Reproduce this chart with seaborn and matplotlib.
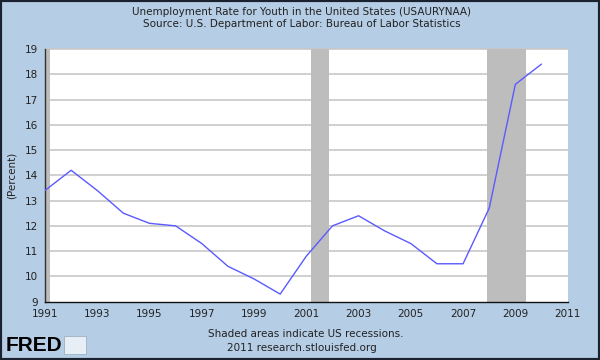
import matplotlib
matplotlib.use("Agg")
import matplotlib.pyplot as plt
import seaborn as sns
import pandas as pd

# Data (USAURYNAA, annual)
years = [1991, 1992, 1993, 1994, 1995, 1996, 1997, 1998, 1999, 2000,
         2001, 2002, 2003, 2004, 2005, 2006, 2007, 2008, 2009, 2010]
rates = [13.4, 14.2, 13.4, 12.5, 12.1, 12.0, 11.3, 10.4, 9.9, 9.3,
         10.8, 12.0, 12.4, 11.8, 11.3, 10.5, 10.5, 12.7, 17.6, 18.4]

# Recession periods (start, end) as fractional years
recessions = [(1990.6, 1991.2), (2001.17, 2001.87), (2007.92, 2009.42)]

x_ticks = list(range(1991, 2012, 2))
y_ticks = list(range(9, 20))

df = pd.DataFrame({"Year": years, "Rate": rates})

sns.set_style("white")
plt.rcParams["font.family"] = ["DejaVu Sans"]

bg = "#b5cde5"
fig = plt.figure(figsize=(6, 3.6), dpi=100, facecolor=bg)
ax = fig.add_axes([0.075, 0.162, 0.871, 0.702])
ax.set_facecolor("white")

for start, end in recessions:
    ax.axvspan(start, end, color="#bdbdbd", zorder=1, lw=0)

for y in y_ticks[1:]:
    ax.axhline(y, color="#c8c8c8", lw=1.2, zorder=0.5, clip_on=False)

sns.lineplot(data=df, x="Year", y="Rate", ax=ax, color="#5a5aff", lw=1.0, zorder=3)

ax.set_xlim(1991, 2011)
ax.set_ylim(9, 19)
ax.set_xticks(x_ticks)
ax.set_yticks(y_ticks)
ax.tick_params(axis="x", direction="in", length=4, width=0.8, labelsize=7.5, pad=5, colors="#222222")
ax.tick_params(axis="y", direction="out", length=3, width=0.8, labelsize=7.5, pad=2, colors="#222222")
ax.set_xlabel("")
ax.set_ylabel("(Percent)", fontsize=7.5, color="#222222", labelpad=6)

for side in ["top", "right"]:
    ax.spines[side].set_visible(False)
ax.spines["left"].set_color("#333333")
ax.spines["bottom"].set_color("#111111")
ax.spines["left"].set_linewidth(1.0)
ax.spines["bottom"].set_linewidth(1.0)

fig.text(0.503, 0.968, "Unemployment Rate for Youth in the United States (USAURYNAA)",
         ha="center", va="center", fontsize=7.5, color="#222222")
fig.text(0.503, 0.932, "Source: U.S. Department of Labor: Bureau of Labor Statistics",
         ha="center", va="center", fontsize=7.5, color="#222222")
fig.text(0.51, 0.072, "Shaded areas indicate US recessions.",
         ha="center", va="center", fontsize=7.5, color="#222222")
fig.text(0.503, 0.033, "2011 research.stlouisfed.org",
         ha="center", va="center", fontsize=7.5, color="#222222")

# FRED logo mock
fig.text(0.01, 0.04, "FRED", ha="left", va="center", fontsize=15,
         fontweight="bold", color="black", family=["Liberation Sans", "DejaVu Sans"])
fig.patches.append(plt.Rectangle((0.107, 0.016), 0.036, 0.05, transform=fig.transFigure,
                                 fc="#e8eef5", ec="#9fb0c4", lw=0.6))

# dark frame around the image
fig.patches.append(plt.Rectangle((0, 0), 1, 1, transform=fig.transFigure,
                                 fill=False, ec="#1a2230", lw=3, zorder=10))

fig.savefig("out.png", dpi=100, facecolor=bg)
